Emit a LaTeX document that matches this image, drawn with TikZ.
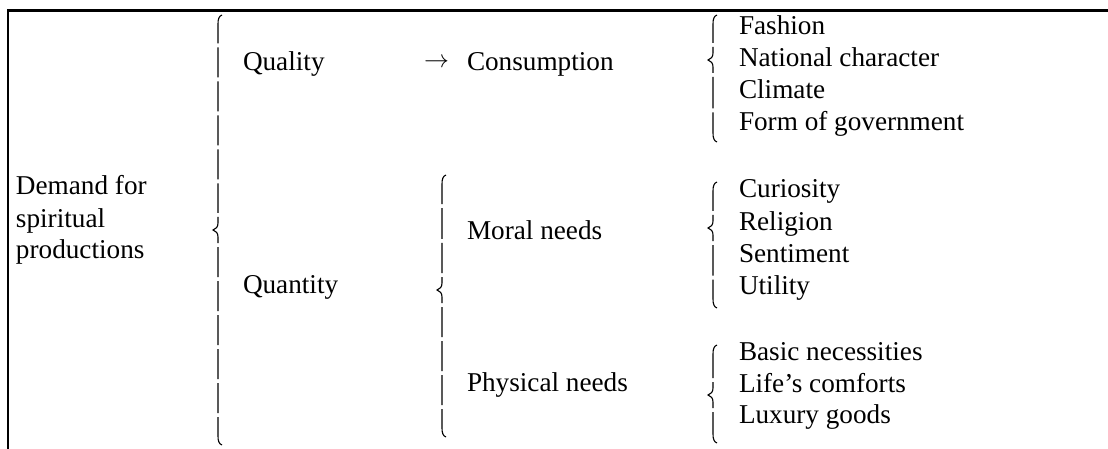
\documentclass[tikz,border=0pt]{standalone}
\usepackage{fontspec}
\setmainfont{Liberation Serif}

% Curly brace built from stacked pieces:
% #1 x, #2 top, #3 cusp, #4 bottom, #5 pieces above cusp, #6 pieces below cusp
\newcommand\stackbrace[6]{%
  \pgfmathsetmacro\bupEnd{#3-17}%
  \pgfmathsetmacro\blowStart{#3+17}%
  \pgfmathsetmacro\bupLen{((#3-17-#2)+2-4*(#5-1))/#5}%
  \pgfmathsetmacro\blowLen{((#4-#3-17)+2-4*(#6-1))/#6}%
  \draw[bracepen, dash pattern=on \bupLen pt off 4pt]
    (#1+4,#2) .. controls (#1+1,#2+1) and (#1,#2+4) .. (#1,#2+9) -- (#1,\bupEnd);
  \draw[bracepen]
    (#1,#3-13) -- (#1,#3-7) .. controls (#1,#3-3) and (#1-2,#3-1) .. (#1-5,#3)
    .. controls (#1-2,#3+1) and (#1,#3+3) .. (#1,#3+7) -- (#1,#3+13);
  \draw[bracepen, dash pattern=on \blowLen pt off 4pt]
    (#1,\blowStart) -- (#1,#4-9) .. controls (#1,#4-4) and (#1+1,#4-1) .. (#1+4,#4);
}

\begin{document}
\begin{tikzpicture}[x=1pt,y=-1pt,
  txt/.style={anchor=base west, inner sep=0pt, outer sep=0pt,
              font=\fontsize{27.2}{32}\selectfont},
  bracepen/.style={line width=1.1pt, black},
  framepen/.style={line width=2.4pt, black}]
\useasboundingbox (0,0) rectangle (1108,449);

% frame: left rule and top rule
\coordinate (fbl) at (7.8,449);
\coordinate (ftl) at (7.8,10.5);
\coordinate (ftr) at (1108,10.5);
\draw[framepen] (fbl) -- (ftl) -- (ftr);

% root
\node[txt] (dem1) at (16,195) {Demand for};
\node[txt] (dem2) at (16,227) {spiritual};
\node[txt] (dem3) at (16,258) {productions};

% first level
\node[txt] (quality)  at (243,71) {Quality};
\node[txt] (quantity) at (243,293) {Quantity};

% second level
\node[inner sep=0pt, font=\fontsize{23}{28}\selectfont] (arr) at (436.5,63) {$\rightarrow$};
\node[txt] (consumption) at (467,71) {Consumption};
\node[txt] (moral)    at (467,240) {Moral needs};
\node[txt] (physical) at (467,391) {Physical needs};

% third level
\node[txt] (fashion)  at (739,35) {Fashion};
\node[txt] (national) at (739,67) {National character};
\node[txt] (climate)  at (739,99) {Climate};
\node[txt] (form)     at (739,131) {Form of government};

\node[txt] (curiosity) at (739,198) {Curiosity};
\node[txt] (religion)  at (739,230) {Religion};
\node[txt] (sentiment) at (739,262) {Sentiment};
\node[txt] (utility)   at (739,294) {Utility};

\node[txt] (basic)  at (739,360) {Basic necessities};
\node[txt] (life)   at (739,392) {Life’s comforts};
\node[txt] (luxury) at (739,423) {Luxury goods};

% braces
\stackbrace{218}{15}{230}{445}{6}{6}
\stackbrace{442}{175}{290}{437}{3}{4}
\stackbrace{713}{15}{60}{142}{1}{2}
\stackbrace{713}{182}{228}{308}{1}{2}
\stackbrace{713}{345}{395}{443}{1}{1}
\end{tikzpicture}
\end{document}
